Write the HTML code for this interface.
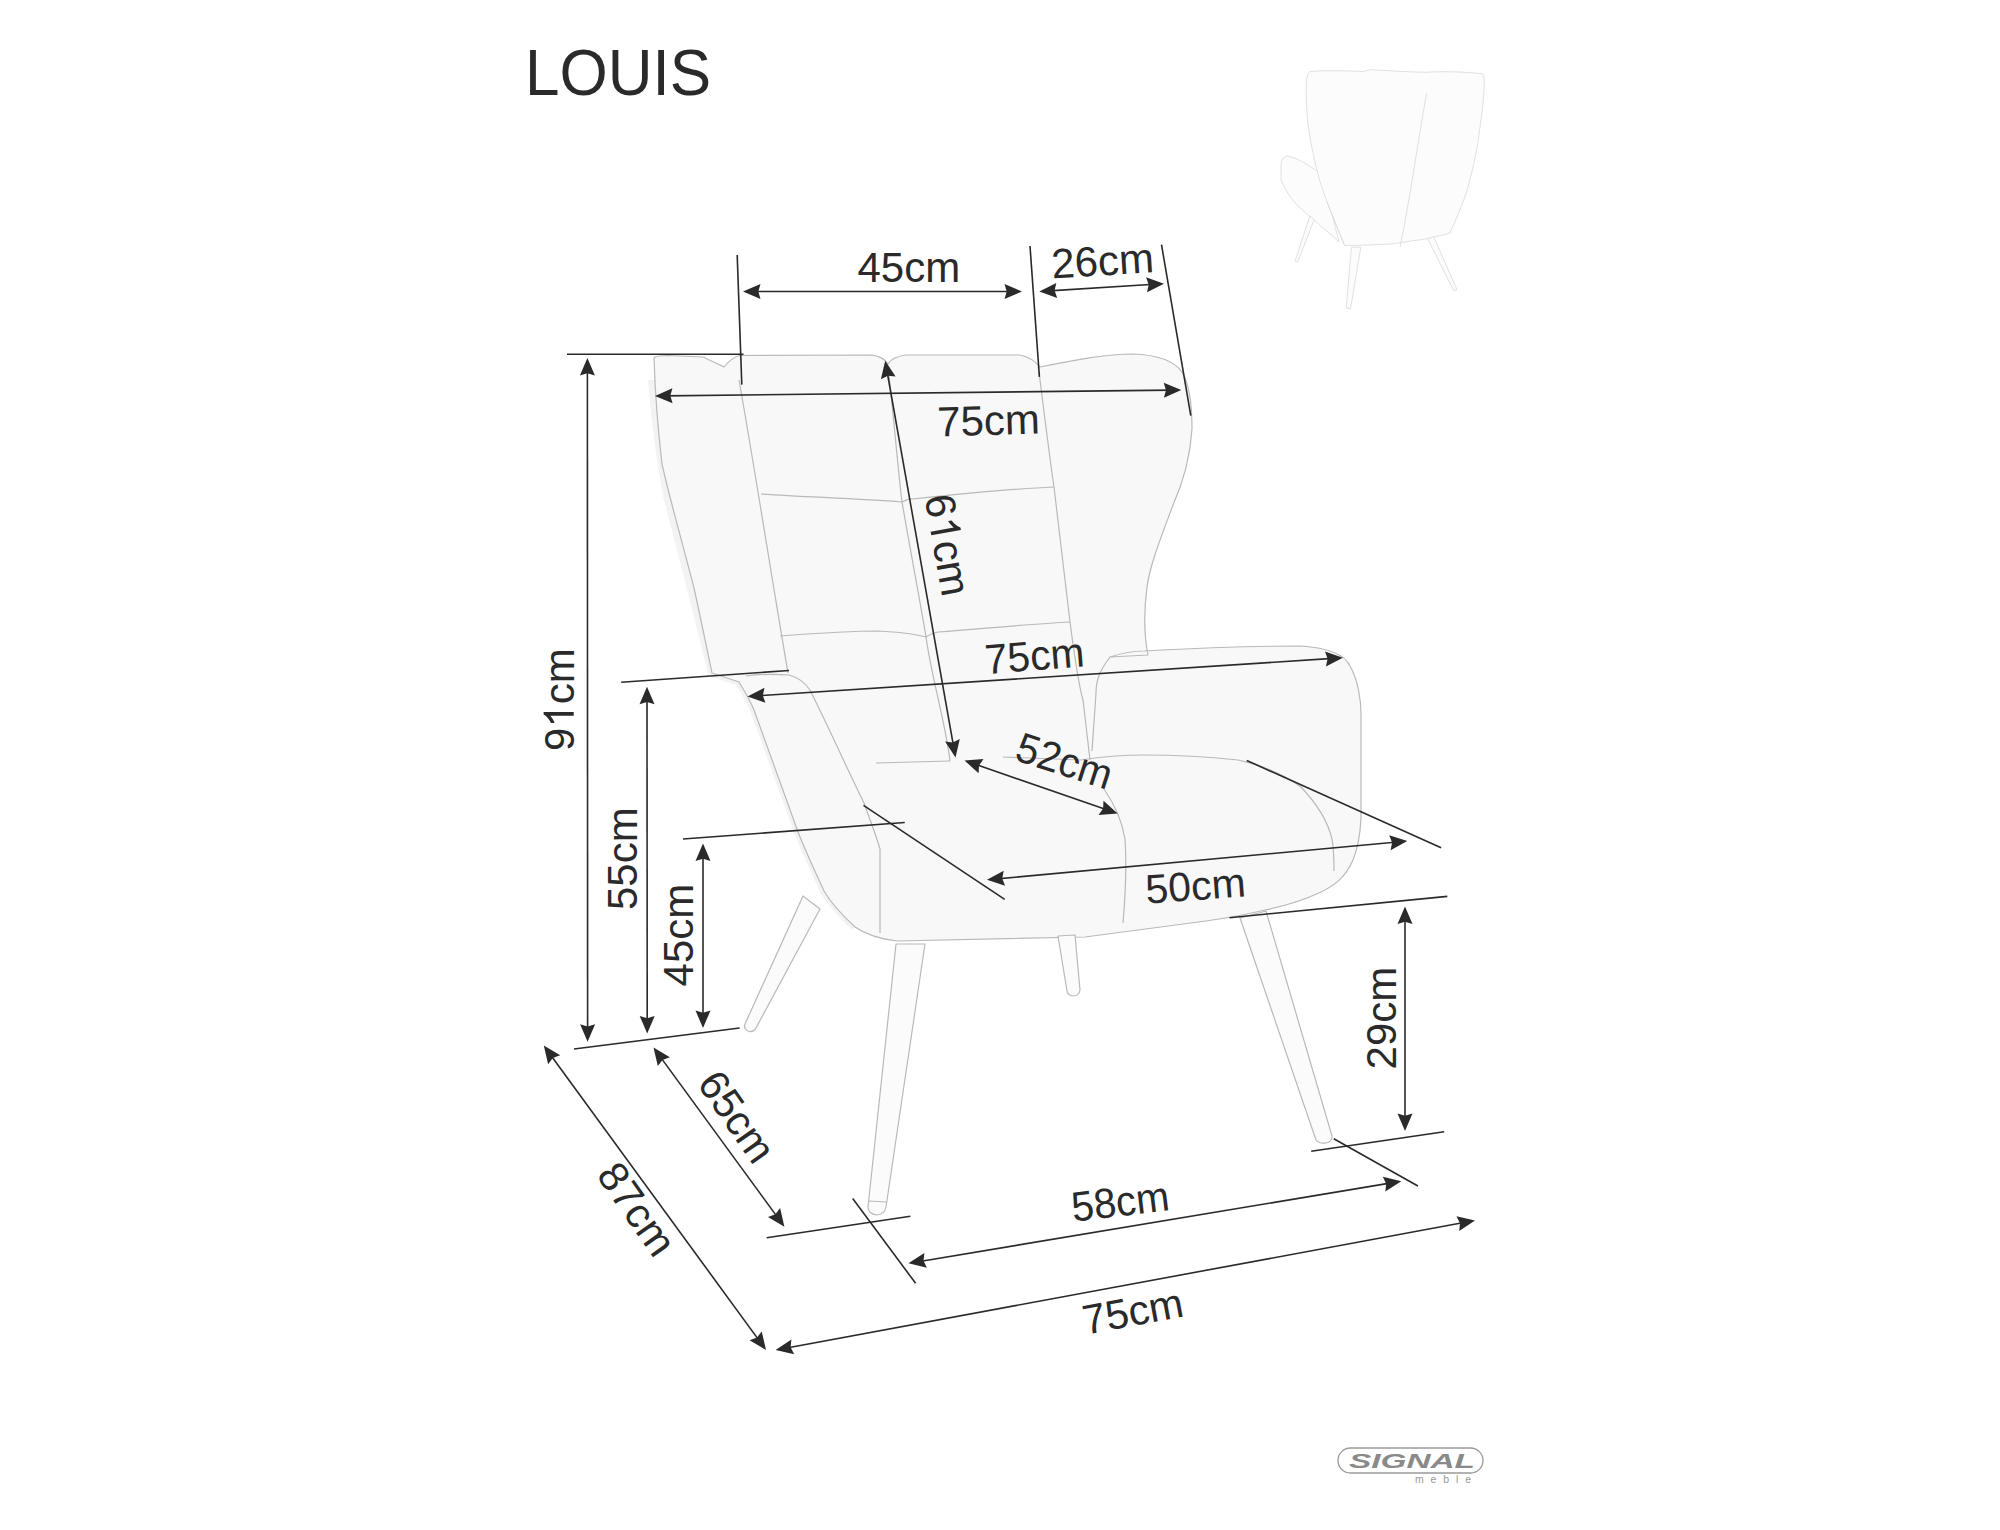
<!DOCTYPE html>
<html><head><meta charset="utf-8"><title>LOUIS</title>
<style>html,body{margin:0;padding:0;background:#fff;width:2000px;height:1530px;overflow:hidden}
svg{display:block;font-family:"Liberation Sans",sans-serif}</style></head>
<body><svg width="2000" height="1530" viewBox="0 0 2000 1530">
<rect width="2000" height="1530" fill="#fff"/>
<g fill="none" stroke="#b9b9b9" stroke-width="1.2" stroke-linejoin="round">
<path fill="none" stroke="#f3f3f3" stroke-width="8" d="M652,380 C656,430 662,470 668,500 C680,545 694,600 712,673 L739,682 C745,692 750,700 754,710 L793,818 C800,840 810,860 824,891 C832,905 842,915 855,927"/>
<path fill="#f8f8f8" d="M654,358 C655,356 660,355.5 668,355.5 L703,357 L724,367 C728,362 733,357 740,355.5 L872,355 C880,356 886,360 888,364 C891,359 897,356 906,355 L1020,355 C1030,357 1036,362 1040,367 C1075,360 1105,354 1133,354 C1160,355 1175,362 1182,372 C1190,385 1192,405 1192,429 C1190,460 1182,485 1173,505 C1160,540 1150,565 1147,587 C1144,610 1144,635 1148,655 L1110,657 C1125,652 1135,651 1144,651 C1200,648 1250,646 1301,646 C1330,648 1345,655 1350,666 C1358,680 1361,700 1361,714 L1361,818 C1360,840 1357,850 1353,860 C1345,878 1335,885 1321,892 C1300,902 1285,906 1265,910 C1240,916 1220,919 1206,921 L1085,937 L897,941 C880,939 865,934 855,927 C842,915 832,905 824,891 C810,860 800,840 793,818 L754,710 C750,700 745,692 739,682 L712,673 C705,640 700,615 694,588 C683,545 670,500 662,464 C658,430 655,390 654,358 Z"/>
<path d="M739,380 C755,470 772,580 788,673"/>
<path d="M888,366 C894,420 898,470 902,502 C912,560 920,600 926,637 C932,680 945,720 950,761"/>
<path d="M1039,372 C1045,420 1050,460 1054,487 C1060,540 1066,590 1070,622 C1075,660 1080,690 1083,700"/>
<path d="M761,494 C810,497 860,499 902,502 C910,498 912,499 912,499 C960,494 1010,489 1054,487"/>
<path d="M780,636 C820,633 850,631 878,631 C900,632 915,634 926,637 C930,634 934,633 938,632 C990,628 1030,624 1070,622"/>
<path d="M1083,700 L1090,760"/>
<path d="M746,676 C760,674 775,674 789,675 C800,678 806,684 810,690 C830,730 850,775 864,803 C870,820 876,835 880,849 L880,933"/>
<path d="M1110,657 C1100,670 1096,680 1096,693 L1092,751"/>
<path d="M876,763 L950,761 M1003,757 L1081,760"/>
<path d="M1081,760 C1100,757 1120,755 1144,755 C1180,755 1210,757 1238,760 C1265,766 1285,775 1301,787 C1318,805 1328,822 1332,839 C1334,850 1334,862 1334,871"/>
<path d="M1104,789 C1115,805 1122,820 1125,839 C1127,870 1125,900 1123,923"/>
<path fill="#fbfbfb" d="M803,896 L820,909 L756,1028 Q753,1033 748,1031 Q743,1028 745,1024 Z"/>
<path fill="#fbfbfb" d="M896,944 L925,944 L886,1207 Q885,1214 877,1215 Q868,1214 868,1207 Z"/>
<path d="M869,1201 L886,1202"/>
<path fill="#fbfbfb" d="M1058,936 L1075,935 L1080,990 Q1079,996 1073,996 Q1067,995 1067,991 Z"/>
<path fill="#fbfbfb" d="M1240,918 L1266,911 L1332,1136 Q1333,1141 1326,1143 Q1319,1144 1316,1140 Z"/>
</g>
<g fill="#fcfcfc" stroke="#dcdcdc" stroke-width="0.9" stroke-linejoin="round">
<path d="M1322,174.5 C1315,170 1300,158 1287,156 C1283,157 1281,160 1281,165 L1281,180 C1286,192 1292,200 1298,206 C1305,212 1310,217 1315,221 C1325,230 1333,236 1339,242 Z"/>
<path d="M1310,71.5 C1330,70 1350,71 1363,71.5 C1368,70 1372,69 1376,70 C1395,71 1410,72 1426,72.3 C1445,71 1470,72 1483,74 C1485,78 1484,84 1484,90 C1483,110 1480,125 1478,142 C1474,165 1470,180 1466,194 C1460,210 1455,222 1450,233 C1440,236 1432,237 1426,239 C1410,241 1400,243 1391,244 C1370,245 1355,245.5 1344.5,245.5 C1338,230 1332,215 1327,202 C1323,190 1320,183 1318.5,176 C1313,155 1310,140 1308,124 C1306,105 1306,90 1306.4,81 C1307,76 1308,73 1310,71.5 Z"/>
<path fill="none" d="M1426.7,93 C1418,140 1410,200 1400,247 M1327,202 L1344,244"/>
<polygon points="1309.8,216 1314.2,219.5 1297.7,262 1295.1,261.1"/>
<polygon points="1351.4,247.2 1360.9,247.2 1350.5,308.7 1346.2,307.9"/>
<polygon points="1427.6,238.6 1433.7,236.8 1457,289.7 1453.6,290.5"/>
</g>
<line x1="737.2" y1="255.0" x2="741.8" y2="384.6" stroke="#2a2a2a" stroke-width="1.6"/>
<line x1="1030.0" y1="246.0" x2="1039.4" y2="376.9" stroke="#2a2a2a" stroke-width="1.6"/>
<line x1="1161.5" y1="244.7" x2="1190.8" y2="415.6" stroke="#2a2a2a" stroke-width="1.6"/>
<line x1="567.0" y1="354.3" x2="743.5" y2="354.3" stroke="#2a2a2a" stroke-width="1.6"/>
<line x1="621.2" y1="682.3" x2="789.0" y2="670.5" stroke="#2a2a2a" stroke-width="1.6"/>
<line x1="683.0" y1="839.0" x2="904.7" y2="822.5" stroke="#2a2a2a" stroke-width="1.6"/>
<line x1="574.0" y1="1049.0" x2="739.6" y2="1028.0" stroke="#2a2a2a" stroke-width="1.6"/>
<line x1="863.5" y1="805.3" x2="1004.7" y2="899.4" stroke="#2a2a2a" stroke-width="1.6"/>
<line x1="1246.7" y1="760.4" x2="1441.1" y2="847.8" stroke="#2a2a2a" stroke-width="1.6"/>
<line x1="1229.5" y1="917.7" x2="1447.3" y2="896.4" stroke="#2a2a2a" stroke-width="1.6"/>
<line x1="1311.2" y1="1151.3" x2="1444.2" y2="1131.7" stroke="#2a2a2a" stroke-width="1.6"/>
<line x1="766.7" y1="1237.8" x2="910.4" y2="1216.2" stroke="#2a2a2a" stroke-width="1.6"/>
<line x1="852.7" y1="1198.4" x2="915.6" y2="1283.3" stroke="#2a2a2a" stroke-width="1.6"/>
<line x1="1333.8" y1="1138.8" x2="1417.9" y2="1186.0" stroke="#2a2a2a" stroke-width="1.6"/>
<line x1="753.0" y1="291.5" x2="1012.0" y2="291.5" stroke="#2a2a2a" stroke-width="1.6"/>
<polygon points="1022.0,291.5 1004.5,299.0 1006.7,291.5 1004.5,284.0" fill="#2a2a2a"/>
<polygon points="743.0,291.5 760.5,284.0 758.3,291.5 760.5,299.0" fill="#2a2a2a"/>
<line x1="1049.3" y1="290.9" x2="1154.0" y2="284.3" stroke="#2a2a2a" stroke-width="1.6"/>
<polygon points="1164.0,283.7 1147.0,292.3 1148.7,284.7 1146.1,277.3" fill="#2a2a2a"/>
<polygon points="1039.3,291.5 1056.3,282.9 1054.6,290.5 1057.2,297.9" fill="#2a2a2a"/>
<line x1="665.0" y1="395.9" x2="1171.3" y2="390.1" stroke="#2a2a2a" stroke-width="1.6"/>
<polygon points="1181.3,390.0 1163.9,397.7 1166.0,390.2 1163.7,382.7" fill="#2a2a2a"/>
<polygon points="655.0,396.0 672.4,388.3 670.3,395.8 672.6,403.3" fill="#2a2a2a"/>
<line x1="886.9" y1="370.5" x2="953.8" y2="747.7" stroke="#2a2a2a" stroke-width="1.6"/>
<polygon points="955.5,757.5 945.1,741.6 952.8,742.4 959.8,739.0" fill="#2a2a2a"/>
<polygon points="885.2,360.7 895.6,376.6 887.9,375.8 880.9,379.2" fill="#2a2a2a"/>
<line x1="587.4" y1="368.0" x2="587.6" y2="1031.7" stroke="#2a2a2a" stroke-width="1.6"/>
<polygon points="587.6,1041.7 580.1,1024.2 587.6,1026.4 595.1,1024.2" fill="#2a2a2a"/>
<polygon points="587.4,358.0 594.9,375.5 587.4,373.3 579.9,375.5" fill="#2a2a2a"/>
<line x1="647.0" y1="696.7" x2="647.2" y2="1023.5" stroke="#2a2a2a" stroke-width="1.6"/>
<polygon points="647.2,1033.5 639.7,1016.0 647.2,1018.2 654.7,1016.0" fill="#2a2a2a"/>
<polygon points="647.0,686.7 654.5,704.2 647.0,702.0 639.5,704.2" fill="#2a2a2a"/>
<line x1="703.0" y1="853.5" x2="703.0" y2="1018.0" stroke="#2a2a2a" stroke-width="1.6"/>
<polygon points="703.0,1028.0 695.5,1010.5 703.0,1012.7 710.5,1010.5" fill="#2a2a2a"/>
<polygon points="703.0,843.5 710.5,861.0 703.0,858.8 695.5,861.0" fill="#2a2a2a"/>
<line x1="757.5" y1="695.8" x2="1332.9" y2="658.4" stroke="#2a2a2a" stroke-width="1.6"/>
<polygon points="1342.9,657.8 1325.9,666.4 1327.6,658.8 1325.0,651.4" fill="#2a2a2a"/>
<polygon points="747.5,696.4 764.5,687.8 762.8,695.4 765.4,702.8" fill="#2a2a2a"/>
<line x1="973.9" y1="763.8" x2="1108.2" y2="810.2" stroke="#2a2a2a" stroke-width="1.6"/>
<polygon points="1117.6,813.5 1098.6,814.9 1103.1,808.5 1103.5,800.7" fill="#2a2a2a"/>
<polygon points="964.5,760.5 983.5,759.1 979.0,765.5 978.6,773.3" fill="#2a2a2a"/>
<line x1="997.0" y1="878.9" x2="1397.3" y2="842.0" stroke="#2a2a2a" stroke-width="1.6"/>
<polygon points="1407.3,841.1 1390.6,850.2 1392.1,842.5 1389.2,835.2" fill="#2a2a2a"/>
<polygon points="987.0,879.8 1003.7,870.7 1002.2,878.4 1005.1,885.7" fill="#2a2a2a"/>
<line x1="1405.0" y1="916.5" x2="1405.0" y2="1121.0" stroke="#2a2a2a" stroke-width="1.6"/>
<polygon points="1405.0,1131.0 1397.5,1113.5 1405.0,1115.7 1412.5,1113.5" fill="#2a2a2a"/>
<polygon points="1405.0,906.5 1412.5,924.0 1405.0,921.8 1397.5,924.0" fill="#2a2a2a"/>
<line x1="659.4" y1="1055.6" x2="778.5" y2="1218.6" stroke="#2a2a2a" stroke-width="1.6"/>
<polygon points="784.4,1226.7 768.0,1217.0 775.4,1214.3 780.1,1208.1" fill="#2a2a2a"/>
<polygon points="653.5,1047.5 669.9,1057.2 662.5,1059.9 657.8,1066.1" fill="#2a2a2a"/>
<line x1="549.7" y1="1053.7" x2="760.1" y2="1341.9" stroke="#2a2a2a" stroke-width="1.6"/>
<polygon points="766.0,1350.0 749.6,1340.3 757.0,1337.6 761.7,1331.4" fill="#2a2a2a"/>
<polygon points="543.8,1045.6 560.2,1055.3 552.8,1058.0 548.1,1064.2" fill="#2a2a2a"/>
<line x1="918.3" y1="1261.7" x2="1391.4" y2="1182.9" stroke="#2a2a2a" stroke-width="1.6"/>
<polygon points="1401.3,1181.3 1385.3,1191.6 1386.2,1183.8 1382.8,1176.8" fill="#2a2a2a"/>
<polygon points="908.4,1263.3 924.4,1253.0 923.5,1260.8 926.9,1267.8" fill="#2a2a2a"/>
<line x1="785.4" y1="1348.2" x2="1465.2" y2="1222.3" stroke="#2a2a2a" stroke-width="1.6"/>
<polygon points="1475.0,1220.5 1459.2,1231.1 1460.0,1223.3 1456.4,1216.3" fill="#2a2a2a"/>
<polygon points="775.6,1350.0 791.4,1339.4 790.6,1347.2 794.2,1354.2" fill="#2a2a2a"/>
<g transform="translate(908.8,267.1) rotate(0.00) scale(1.0,1)" fill="#2a2a2a">
<text x="0" y="14.5" text-anchor="middle" font-size="42">45cm</text>
</g>
<g transform="translate(1102.5,260.9) rotate(-3.58) scale(1.0,1)" fill="#2a2a2a">
<text x="0" y="14.5" text-anchor="middle" font-size="42">26cm</text>
</g>
<g transform="translate(988.5,420.5) rotate(-1.80) scale(1.0,1)" fill="#2a2a2a">
<text x="0" y="14.5" text-anchor="middle" font-size="42">75cm</text>
</g>
<g transform="translate(947.7,544.9) rotate(79.95) scale(1.0,1)" fill="#2a2a2a">
<text x="-51.35" y="14.5" font-size="42">6</text>
<path transform="translate(-27.99,14.5) scale(0.02051,-0.02051)" d="M763,0 L583,0 L583,1147 C540,1106 483,1065 413,1024 C343,983 280,952 225,931 L225,1105 C324,1152 411,1208 485,1274 C559,1340 611,1404 642,1466 L763,1466 Z"/>
<text x="-4.63" y="14.5" font-size="42">cm</text>
</g>
<g transform="translate(559.2,699.6) rotate(-90.00) scale(1.0,1)" fill="#2a2a2a">
<text x="-51.35" y="14.5" font-size="42">9</text>
<path transform="translate(-27.99,14.5) scale(0.02051,-0.02051)" d="M763,0 L583,0 L583,1147 C540,1106 483,1065 413,1024 C343,983 280,952 225,931 L225,1105 C324,1152 411,1208 485,1274 C559,1340 611,1404 642,1466 L763,1466 Z"/>
<text x="-4.63" y="14.5" font-size="42">cm</text>
</g>
<g transform="translate(622.0,858.7) rotate(-90.00) scale(1.0,1)" fill="#2a2a2a">
<text x="0" y="14.5" text-anchor="middle" font-size="42">55cm</text>
</g>
<g transform="translate(678.4,935.1) rotate(-90.00) scale(1.0,1)" fill="#2a2a2a">
<text x="0" y="14.5" text-anchor="middle" font-size="42">45cm</text>
</g>
<g transform="translate(1034.5,655.7) rotate(-4.60) scale(0.97,1)" fill="#2a2a2a">
<text x="0" y="14.5" text-anchor="middle" font-size="42">75cm</text>
</g>
<g transform="translate(1064.5,760.9) rotate(18.00) scale(0.96,1)" fill="#2a2a2a">
<text x="0" y="14.5" text-anchor="middle" font-size="42">52cm</text>
</g>
<g transform="translate(1195.5,886.0) rotate(-4.30) scale(1.0,1)" fill="#2a2a2a">
<text x="0" y="14.1" text-anchor="middle" font-size="41">50cm</text>
</g>
<g transform="translate(1381.2,1018.1) rotate(-90.00) scale(1.0,1)" fill="#2a2a2a">
<text x="0" y="14.5" text-anchor="middle" font-size="42">29cm</text>
</g>
<g transform="translate(737.0,1116.7) rotate(55.00) scale(0.98,1)" fill="#2a2a2a">
<text x="0" y="14.5" text-anchor="middle" font-size="42">65cm</text>
</g>
<g transform="translate(636.9,1209.0) rotate(55.00) scale(1.0,1)" fill="#2a2a2a">
<text x="0" y="14.5" text-anchor="middle" font-size="42">87cm</text>
</g>
<g transform="translate(1120.2,1201.5) rotate(-6.80) scale(0.955,1)" fill="#2a2a2a">
<text x="0" y="14.5" text-anchor="middle" font-size="42">58cm</text>
</g>
<g transform="translate(1132.8,1311.4) rotate(-10.50) scale(1.0,1)" fill="#2a2a2a">
<text x="0" y="14.3" text-anchor="middle" font-size="41.5">75cm</text>
</g>
<text transform="translate(525,95.0) scale(1,1.036)" x="0" y="0" font-size="62" fill="#2a2a2a">LOUIS</text>
<rect x="1338" y="1448" width="145" height="25" rx="12.5" fill="none" stroke="#9a9a9a" stroke-width="1.3"/>
<text x="1349" y="1467.6" font-size="19.5" font-weight="bold" font-style="italic" fill="#8a8a8a" textLength="126" lengthAdjust="spacingAndGlyphs">SIGNAL</text>
<text x="1415" y="1483.2" font-size="10.5" fill="#9a9a9a" textLength="56" lengthAdjust="spacing">meble</text>
</svg></body></html>
